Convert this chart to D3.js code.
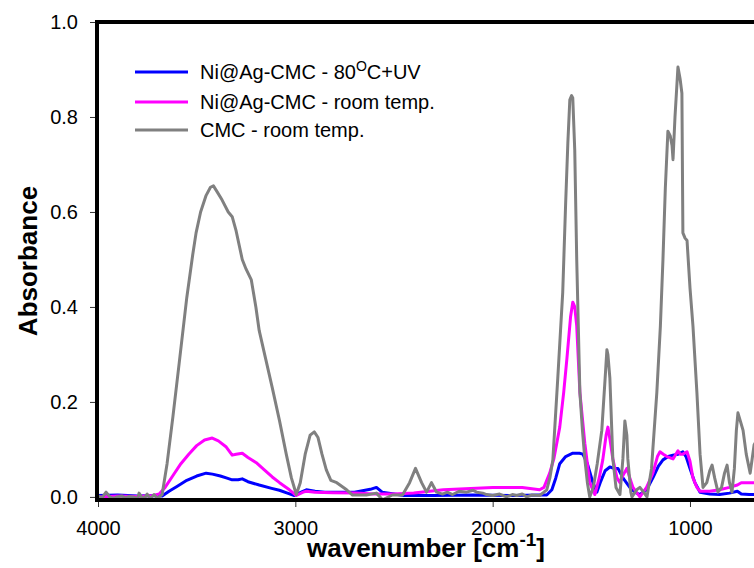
<!DOCTYPE html>
<html>
<head>
<meta charset="utf-8">
<script src="https://cdn.jsdelivr.net/npm/d3@7/dist/d3.min.js"></script>
<style>
  html, body { margin: 0; padding: 0; background: #ffffff; }
  svg { display: block; }
  text { font-family: Arial, "Liberation Sans", sans-serif; }
</style>
</head>
<body>
<svg id="chart" width="754" height="568"></svg>
<script>
// ---------------- DATA ----------------
const xTicks = [4000, 3000, 2000, 1000];
const yTicks = [0, 0.2, 0.4, 0.6, 0.8, 1.0];
const xTickLabels = ["4000", "3000", "2000", "1000"];
const yTickLabels = ["0.0", "0.2", "0.4", "0.6", "0.8", "1.0"];

const seriesNames = ["Ni@Ag-CMC - 80OC+UV", "Ni@Ag-CMC - room temp.", "CMC - room temp."];
const seriesColors = ["#0000ff", "#ff00ff", "#808080"];

// Ni@Ag-CMC - 80°C + UV (blue)
const blueWn = [4000,3900,3800,3700,3675,3640,3600,3550,3500,3452,3420,3380,3350,3320,3290,3269,3240,3183,3120,3081,3040,3005,2970,2944,2900,2850,2800,2700,2620,2589,2560,2500,2450,2300,2100,1900,1760,1726,1700,1680,1660,1630,1594,1560,1543,1520,1492,1472,1455,1430,1406,1385,1365,1340,1305,1280,1254,1220,1188,1160,1137,1110,1086,1060,1036,1020,1000,975,949,900,850,800,760,740,700,650];
const blueAbs = [0.003,0.004,0.002,0.003,0.002,0.012,0.022,0.035,0.044,0.050,0.048,0.044,0.040,0.036,0.036,0.038,0.032,0.025,0.018,0.014,0.008,0.003,0.010,0.015,0.012,0.010,0.010,0.010,0.016,0.020,0.010,0.006,0.003,0.003,0.004,0.003,0.004,0.004,0.015,0.040,0.070,0.085,0.092,0.092,0.090,0.070,0.030,0.010,0.030,0.055,0.063,0.060,0.060,0.040,0.020,0.010,0.005,0.015,0.040,0.065,0.078,0.085,0.088,0.090,0.095,0.085,0.060,0.030,0.010,0.006,0.005,0.008,0.012,0.006,0.005,0.005];

// Ni@Ag-CMC - room temp. (magenta)
const magentaWn = [4000,3900,3800,3720,3690,3660,3620,3580,3540,3500,3460,3421,3390,3350,3320,3300,3269,3240,3198,3160,3117,3080,3030,2995,2960,2944,2900,2812,2700,2600,2500,2400,2250,2000,1850,1762,1740,1711,1690,1660,1640,1624,1605,1594,1584,1574,1558,1533,1508,1482,1460,1442,1425,1416,1405,1391,1370,1355,1340,1320,1305,1289,1254,1220,1188,1165,1152,1135,1117,1086,1061,1050,1036,1015,1000,985,965,949,900,850,800,760,740,700,650];
const magentaAbs = [0.000,0.002,0.001,0.003,0.006,0.020,0.045,0.070,0.090,0.108,0.120,0.124,0.118,0.105,0.088,0.090,0.092,0.083,0.072,0.058,0.042,0.030,0.015,0.003,0.010,0.012,0.010,0.009,0.008,0.006,0.006,0.008,0.015,0.020,0.020,0.015,0.020,0.050,0.080,0.147,0.220,0.290,0.380,0.410,0.400,0.360,0.220,0.113,0.030,0.005,0.040,0.078,0.130,0.147,0.120,0.080,0.040,0.030,0.045,0.060,0.040,0.020,0.000,0.020,0.050,0.085,0.095,0.090,0.085,0.080,0.097,0.090,0.090,0.095,0.075,0.040,0.020,0.012,0.012,0.015,0.020,0.025,0.030,0.030,0.030];

// CMC - room temp. (gray)
const grayWn = [4000,3980,3959,3940,3920,3904,3880,3860,3843,3820,3800,3792,3775,3760,3751,3735,3716,3700,3690,3675,3650,3620,3589,3550,3520,3503,3480,3452,3430,3415,3400,3371,3340,3320,3300,3269,3250,3223,3200,3183,3150,3117,3080,3046,3020,2995,2975,2950,2925,2904,2885,2865,2843,2820,2790,2740,2710,2640,2589,2558,2508,2457,2421,2391,2360,2335,2310,2284,2254,2230,2203,2170,2132,2100,2081,2050,2031,2000,1965,1930,1900,1878,1850,1827,1800,1762,1740,1726,1710,1695,1670,1645,1630,1619,1609,1600,1594,1584,1574,1558,1545,1533,1520,1508,1490,1470,1447,1430,1421,1416,1406,1391,1375,1355,1340,1330,1320,1315,1300,1294,1270,1254,1235,1218,1195,1168,1150,1137,1125,1112,1100,1091,1086,1076,1061,1050,1041,1036,1025,1015,1000,985,965,949,934,915,900,888,875,858,840,825,812,800,787,775,765,757,745,731,715,695,685,675,660,640];
const grayAbs = [0.002,-0.002,0.010,0.000,-0.003,0.000,0.002,-0.002,0.001,0.000,-0.004,0.008,-0.003,0.000,0.006,-0.004,0.005,-0.003,0.000,0.005,0.070,0.170,0.280,0.420,0.510,0.556,0.600,0.635,0.652,0.655,0.645,0.625,0.600,0.590,0.560,0.500,0.480,0.457,0.400,0.350,0.290,0.230,0.160,0.090,0.040,0.005,0.030,0.090,0.130,0.137,0.125,0.090,0.057,0.035,0.030,0.015,0.004,0.004,0.008,-0.006,0.004,0.004,0.030,0.060,0.030,0.010,0.030,0.010,0.006,0.010,0.005,0.012,0.010,0.014,0.010,0.008,0.005,0.003,0.006,0.000,0.005,0.003,0.006,0.000,0.004,0.003,0.010,0.015,0.040,0.078,0.250,0.430,0.620,0.745,0.836,0.845,0.840,0.730,0.500,0.220,0.140,0.080,0.030,0.000,0.020,0.070,0.140,0.250,0.310,0.300,0.250,0.080,0.020,0.005,0.080,0.160,0.130,0.080,0.010,0.000,0.015,0.020,0.010,0.000,0.060,0.220,0.360,0.500,0.650,0.770,0.760,0.740,0.710,0.800,0.905,0.880,0.850,0.556,0.545,0.540,0.440,0.360,0.220,0.090,0.020,0.030,0.055,0.067,0.040,0.010,0.020,0.050,0.067,0.030,0.010,0.060,0.140,0.177,0.160,0.140,0.090,0.050,0.080,0.110,0.120,0.100];

// ---------------- CHART ----------------
const svg = d3.select("#chart");
const W = 754, H = 568;
const mLeft = 98, mTop = 22, mBottom = 500;

const x = d3.scaleLinear().domain([4000, 400]).range([mLeft, mLeft + 3600 * 0.19733]);
const y = d3.scaleLinear().domain([-0.0065, 1.0]).range([mBottom, mTop]);

svg.append("rect").attr("width", W).attr("height", H).attr("fill", "#ffffff");

svg.append("defs").append("clipPath").attr("id", "plotclip")
  .append("rect").attr("x", mLeft).attr("y", mTop).attr("width", W - mLeft).attr("height", mBottom - mTop);

// series lines
const series = [
  { wn: blueWn, abs: blueAbs, color: seriesColors[0] },
  { wn: magentaWn, abs: magentaAbs, color: seriesColors[1] },
  { wn: grayWn, abs: grayAbs, color: seriesColors[2] }
];
const line = d3.line()
  .defined(d => d[1] !== undefined && !isNaN(d[1]))
  .x(d => x(d[0])).y(d => y(d[1])).curve(d3.curveLinear);
const plot = svg.append("g").attr("clip-path", "url(#plotclip)");
series.forEach(s => {
  const n = Math.min(s.wn.length, s.abs.length);
  plot.append("path")
    .datum(d3.range(n).map(i => [s.wn[i], s.abs[i]]))
    .attr("d", line)
    .attr("fill", "none")
    .attr("stroke", s.color)
    .attr("stroke-width", 3)
    .attr("stroke-linejoin", "round");
});

// axes via d3 axis generators
const yAxis = d3.axisLeft(y).tickValues(yTicks).tickFormat((d, i) => yTickLabels[i]).tickSize(7).tickPadding(12);
const gy = svg.append("g").attr("transform", `translate(${mLeft - 1},0)`).call(yAxis);
gy.select(".domain").remove();
gy.selectAll(".tick line").attr("stroke", "#333").attr("stroke-width", 1);
gy.selectAll(".tick text").attr("font-size", 20).attr("fill", "#000").attr("font-family", "Arial, 'Liberation Sans', sans-serif");

const xAxis = d3.axisBottom(x).tickValues(xTicks).tickFormat((d, i) => xTickLabels[i]).tickSize(7).tickPadding(14);
const gx = svg.append("g").attr("transform", `translate(0,${mBottom})`).call(xAxis);
gx.select(".domain").remove();
gx.selectAll(".tick line").attr("stroke", "#333").attr("stroke-width", 1);
gx.selectAll(".tick text").attr("font-size", 20).attr("fill", "#000").attr("font-family", "Arial, 'Liberation Sans', sans-serif");

// frame (thick)
const frame = svg.append("g").attr("stroke", "#000").attr("stroke-width", 4).attr("fill", "none");
frame.append("line").attr("x1", mLeft - 1).attr("x2", W + 2).attr("y1", mTop).attr("y2", mTop);
frame.append("line").attr("x1", mLeft - 1).attr("x2", mLeft - 1).attr("y1", mTop - 2).attr("y2", mBottom + 2);
frame.append("line").attr("x1", mLeft - 3).attr("x2", W + 2).attr("y1", mBottom).attr("y2", mBottom);

// axis titles
const xt = svg.append("text").attr("x", 426).attr("y", 557).attr("text-anchor", "middle")
  .attr("font-size", 26).attr("font-weight", "bold").attr("fill", "#000");
xt.append("tspan").text("wavenumber [cm");
xt.append("tspan").attr("dy", -11).attr("font-size", 19).text("-1");
xt.append("tspan").attr("dy", 11).text("]");

svg.append("text").attr("transform", "translate(37,261) rotate(-90)").attr("text-anchor", "middle")
  .attr("font-size", 26).attr("font-weight", "bold").attr("fill", "#000").text("Absorbance");

// legend
const legendY = [72, 102, 130];
const lg = svg.append("g");
seriesNames.forEach((name, i) => {
  lg.append("line").attr("x1", 135).attr("x2", 188).attr("y1", legendY[i]).attr("y2", legendY[i])
    .attr("stroke", seriesColors[i]).attr("stroke-width", 3);
  const t = lg.append("text").attr("x", 200).attr("y", legendY[i] + 7).attr("font-size", 20).attr("fill", "#000");
  if (i === 0) {
    t.append("tspan").text("Ni@Ag-CMC - 80");
    t.append("tspan").attr("dy", -8).attr("font-size", 14).text("O");
    t.append("tspan").attr("dy", 8).text("C+UV");
  } else {
    t.text(name);
  }
});
</script>
</body>
</html>
